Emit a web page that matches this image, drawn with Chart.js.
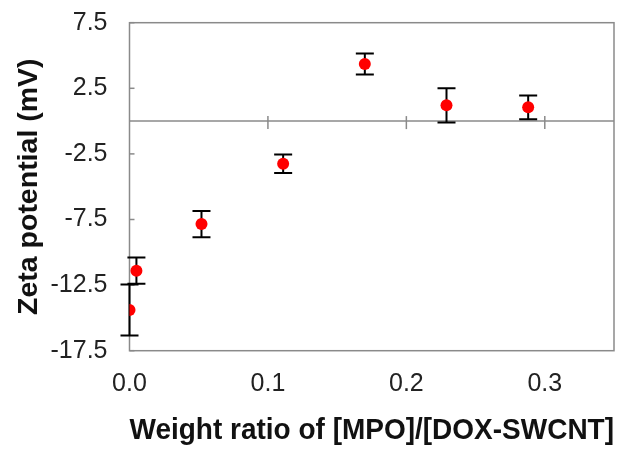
<!DOCTYPE html>
<html>
<head>
<meta charset="utf-8">
<script src="https://cdn.jsdelivr.net/npm/chart.js@4.4.1/dist/chart.umd.min.js"></script>
<style>
  html, body { margin: 0; padding: 0; background: #ffffff; }
  #wrap { width: 630px; height: 458px; position: relative; }
</style>
</head>
<body>
<div id="wrap"><canvas id="c" width="630" height="458"></canvas></div>
<script>
// ---- data ----
const weightRatio = [0, 0.005, 0.052, 0.111, 0.170, 0.229, 0.288];
const zetaPotential = [-14.4, -11.4, -7.85, -3.25, 4.35, 1.2, 1.05];
const zetaError = [1.95, 1.0, 1.0, 0.7, 0.8, 1.3, 0.9];
const xTickValues = [0, 0.1, 0.2, 0.3];
const yTickValues = [-17.5, -12.5, -7.5, -2.5, 2.5, 7.5];
const xTitle = 'Weight ratio of [MPO]/[DOX-SWCNT]';
const yTitle = 'Zeta potential (mV)';

const points = weightRatio.map((x, i) => ({ x: x, y: zetaPotential[i] }));

const PLOT_LEFT = 129.5, PLOT_RIGHT = 614, PLOT_TOP = 22.7, PLOT_BOTTOM = 350.7;

const decorPlugin = {
  id: 'decor',
  beforeDatasetsDraw(chart) {
    const ctx = chart.ctx;
    const xs = chart.scales.x, ys = chart.scales.y;
    const a = chart.chartArea;
    ctx.save();
    // plot border
    ctx.strokeStyle = '#8a8a8a';
    ctx.lineWidth = 1.5;
    ctx.strokeRect(a.left, a.top, a.right - a.left, a.bottom - a.top);
    // zero line
    const y0 = ys.getPixelForValue(0);
    ctx.beginPath();
    ctx.moveTo(a.left, y0);
    ctx.lineTo(a.right, y0);
    ctx.stroke();
    // x ticks crossing the zero line
    xTickValues.forEach(v => {
      if (v === 0) return;
      const px = xs.getPixelForValue(v);
      ctx.beginPath();
      ctx.moveTo(px, y0 - 5);
      ctx.lineTo(px, y0 + 8);
      ctx.stroke();
    });
    // y ticks inward
    yTickValues.forEach(v => {
      const py = ys.getPixelForValue(v);
      ctx.beginPath();
      ctx.moveTo(a.left, py);
      ctx.lineTo(a.left + 5, py);
      ctx.stroke();
    });
    // error bars
    ctx.strokeStyle = '#000000';
    ctx.lineWidth = 2;
    weightRatio.forEach((x, i) => {
      const px = xs.getPixelForValue(x);
      const pTop = ys.getPixelForValue(zetaPotential[i] + zetaError[i]);
      const pBot = ys.getPixelForValue(zetaPotential[i] - zetaError[i]);
      ctx.beginPath();
      ctx.moveTo(px, pTop); ctx.lineTo(px, pBot);
      ctx.moveTo(px - 9, pTop); ctx.lineTo(px + 9, pTop);
      ctx.moveTo(px - 9, pBot); ctx.lineTo(px + 9, pBot);
      ctx.stroke();
    });
    ctx.restore();
  }
};

new Chart(document.getElementById('c'), {
  type: 'scatter',
  data: {
    datasets: [{
      data: points,
      backgroundColor: '#ff0000',
      borderColor: '#ff0000',
      borderWidth: 0,
      pointRadius: 6,
      pointHoverRadius: 6
    }]
  },
  options: {
    responsive: false,
    animation: false,
    events: [],
    layout: { padding: { top: PLOT_TOP, right: 630 - PLOT_RIGHT, bottom: 0, left: 0 } },
    plugins: { legend: { display: false }, tooltip: { enabled: false } },
    scales: {
      x: {
        type: 'linear',
        min: 0, max: 0.35,
        grid: { display: false, drawTicks: false },
        border: { display: false },
        afterBuildTicks(scale) { scale.ticks = xTickValues.map(v => ({ value: v })); },
        afterFit(scale) {
          scale.height = 458 - PLOT_BOTTOM;
          scale.paddingLeft = 0; scale.paddingRight = 0;
        },
        ticks: {
          padding: 18,
          color: '#222222',
          font: { family: '"Liberation Sans", Arial, sans-serif', size: 25 },
          maxRotation: 0,
          callback: v => v.toFixed(1)
        },
        title: {
          display: true,
          text: xTitle,
          color: '#111111',
          font: { family: '"Liberation Sans", Arial, sans-serif', size: 29.3, weight: 'bold' },
          padding: { top: 4, bottom: 10 }
        }
      },
      y: {
        type: 'linear',
        min: -17.5, max: 7.5,
        grid: { display: false, drawTicks: false },
        border: { display: false },
        afterBuildTicks(scale) { scale.ticks = yTickValues.map(v => ({ value: v })); },
        afterFit(scale) {
          scale.width = PLOT_LEFT;
          scale.paddingTop = 0; scale.paddingBottom = 0;
        },
        ticks: {
          padding: 22,
          color: '#222222',
          font: { family: '"Liberation Sans", Arial, sans-serif', size: 25 },
          callback: v => v.toFixed(1)
        },
        title: {
          display: true,
          text: yTitle,
          color: '#111111',
          font: { family: '"Liberation Sans", Arial, sans-serif', size: 28.5, weight: 'bold' },
          padding: { top: 12, bottom: 0 }
        }
      }
    }
  },
  plugins: [decorPlugin]
});
</script>
</body>
</html>
